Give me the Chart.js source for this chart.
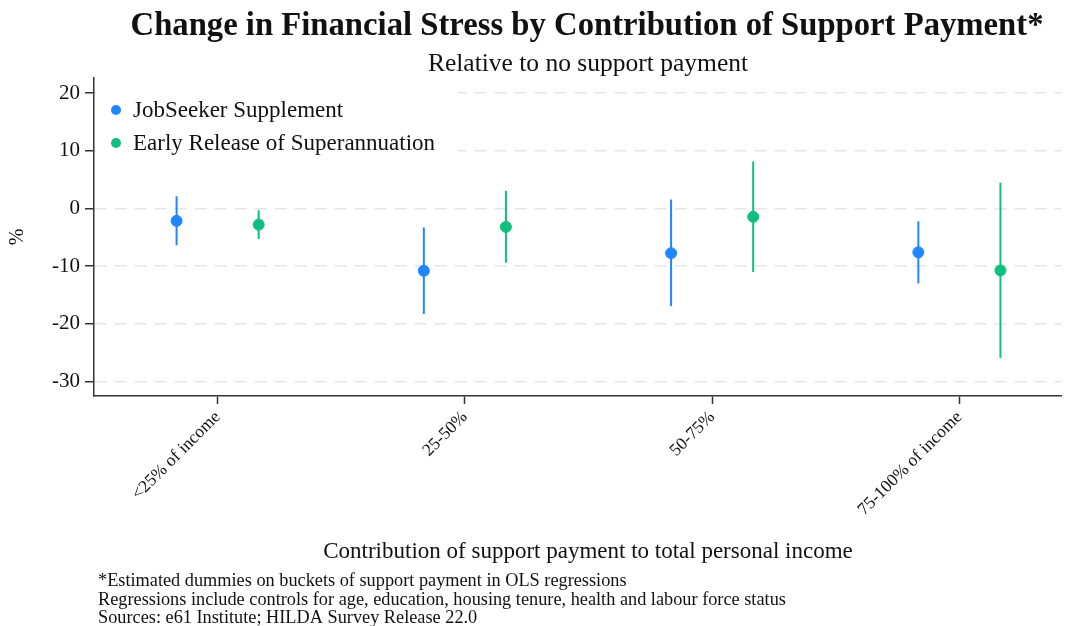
<!DOCTYPE html>
<html>
<head>
<meta charset="utf-8">
<script src="https://cdn.jsdelivr.net/npm/chart.js@4/dist/chart.umd.min.js"></script>
<style>
  html, body { margin: 0; padding: 0; background: #ffffff; }
  #wrap { width: 1068px; height: 626px; position: relative; }
</style>
</head>
<body>
<div id="wrap"><canvas id="chart" width="1068" height="626"></canvas></div>
<script>
// Coefficient estimates (percentage points) with 95% confidence bounds
const categories = ['<25% of income', '25-50%', '50-75%', '75-100% of income'];
const jobseekerEst  = [-2.15, -10.8, -7.75, -7.6];
const jobseekerLow  = [-6.4, -18.3, -16.9, -13.0];
const jobseekerHigh = [2.1, -3.3, 1.55, -2.2];
const superEst  = [-2.8, -3.2, -1.45, -10.75];
const superLow  = [-5.3, -9.4, -11.0, -25.9];
const superHigh = [-0.3, 3.05, 8.15, 4.45];
const yTicks = [20, 10, 0, -10, -20, -30];
const seriesNames = ['JobSeeker Supplement', 'Early Release of Superannuation'];

const titleText = 'Change in Financial Stress by Contribution of Support Payment*';
const subtitleText = 'Relative to no support payment';
const xTitleText = 'Contribution of support payment to total personal income';
const notes = [
  '*Estimated dummies on buckets of support payment in OLS regressions',
  'Regressions include controls for age, education, housing tenure, health and labour force status',
  'Sources: e61 Institute; HILDA Survey Release 22.0'
];

const BLUE = '#1f87ff';
const GREEN = '#0fbf7e';
const SERIF = '"Liberation Serif", "DejaVu Serif", serif';
const INK = '#111111';
const SHIFT = 0.166; // horizontal offset of each series from its category tick

const pts = (vals, dx) => vals.map((v, i) => ({ x: i + 1 + dx, y: v }));
const ranges = (lo, hi, dx) => lo.map((v, i) => ({ x: i + 1 + dx, y: [v, hi[i]] }));

const textLayer = {
  id: 'textLayer',
  beforeDatasetsDraw(chart) {
    const ctx = chart.ctx;
    const area = chart.chartArea;
    ctx.save();
    // legend box sits on the plot, hiding the grid behind it
    ctx.fillStyle = '#ffffff';
    ctx.fillRect(area.left + 2, 82, 362, 82);
    const colors = [BLUE, GREEN];
    ctx.font = '23px ' + SERIF;
    ctx.textBaseline = 'middle';
    ctx.textAlign = 'left';
    seriesNames.forEach((name, i) => {
      const y = 110 + i * 33;
      ctx.fillStyle = colors[i];
      ctx.beginPath();
      ctx.arc(116, y, 5, 0, Math.PI * 2);
      ctx.fill();
      ctx.fillStyle = INK;
      ctx.fillText(name, 133, y + 1);
    });
    ctx.restore();
  },
  afterDraw(chart) {
    const ctx = chart.ctx;
    ctx.save();
    ctx.fillStyle = INK;
    ctx.textAlign = 'center';
    ctx.textBaseline = 'alphabetic';
    ctx.font = 'bold 32.7px ' + SERIF;
    ctx.fillText(titleText, 587, 35);
    ctx.font = '25.5px ' + SERIF;
    ctx.fillText(subtitleText, 588, 71);
    ctx.font = '23px ' + SERIF;
    ctx.fillText(xTitleText, 588, 558);
    ctx.textAlign = 'left';
    ctx.font = '18.3px ' + SERIF;
    notes.forEach((line, i) => ctx.fillText(line, 98, 586 + i * 18.5));
    ctx.restore();
  }
};

new Chart(document.getElementById('chart'), {
  type: 'scatter',
  data: {
    datasets: [
      { type: 'bar', label: seriesNames[0] + ' range', data: ranges(jobseekerLow, jobseekerHigh, -SHIFT),
        backgroundColor: BLUE, borderWidth: 0, grouped: false, maxBarThickness: 2, barPercentage: 1, order: 2 },
      { type: 'bar', label: seriesNames[1] + ' range', data: ranges(superLow, superHigh, SHIFT),
        backgroundColor: GREEN, borderWidth: 0, grouped: false, maxBarThickness: 2, barPercentage: 1, order: 2 },
      { type: 'scatter', label: seriesNames[0], data: pts(jobseekerEst, -SHIFT),
        backgroundColor: BLUE, borderColor: BLUE, pointRadius: 5.5, pointHoverRadius: 5.5, order: 1 },
      { type: 'scatter', label: seriesNames[1], data: pts(superEst, SHIFT),
        backgroundColor: GREEN, borderColor: GREEN, pointRadius: 5.5, pointHoverRadius: 5.5, order: 1 }
    ]
  },
  options: {
    responsive: false,
    animation: false,
    devicePixelRatio: 1,
    layout: { padding: { top: 78, right: 2, left: 0, bottom: 0 } },
    plugins: {
      legend: { display: false },
      title: { display: false },
      tooltip: { enabled: false }
    },
    scales: {
      x: {
        type: 'linear',
        offset: false,
        min: 0.5,
        max: 4.413,
        afterFit: s => { s.height = 230; },
        afterBuildTicks: s => { s.ticks = categories.map((c, i) => ({ value: i + 1 })); },
        ticks: {
          autoSkip: false,
          minRotation: 45,
          maxRotation: 45,
          padding: 3,
          color: INK,
          font: { family: SERIF, size: 17.5 },
          callback: v => categories[v - 1]
        },
        grid: { offset: false, drawOnChartArea: false, drawTicks: true, tickLength: 8, tickColor: '#333333', tickWidth: 1.5 },
        border: { display: true, color: '#333333', width: 1.5 }
      },
      y: {
        type: 'linear',
        min: -32.5,
        max: 22.6,
        afterFit: s => { s.width = 94; },
        afterBuildTicks: s => { s.ticks = yTicks.map(v => ({ value: v })); },
        title: { display: true, text: '%', color: INK, font: { family: SERIF, size: 20 }, padding: { top: 6, bottom: 0 } },
        ticks: { color: INK, font: { family: SERIF, size: 21 }, padding: 5 },
        grid: { color: '#e6e6e6', lineWidth: 1.5, drawTicks: true, tickLength: 9, tickColor: '#333333', tickWidth: 1.5 },
        border: { display: true, color: '#333333', width: 1.5, dash: [12, 8] }
      }
    }
  },
  plugins: [textLayer]
});
</script>
</body>
</html>
